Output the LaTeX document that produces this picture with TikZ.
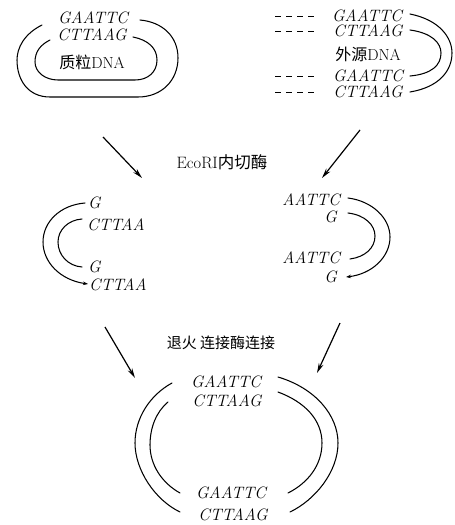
\documentclass[tikz,border=0pt]{standalone}
\usepackage{fontspec}
\newfontfamily\cjk{Noto Sans CJK SC}
\usetikzlibrary{arrows.meta}
\tikzset{
  seq/.style={inner sep=0pt, font=\fontsize{16.5}{18}\selectfont\itshape},
  lbl/.style={inner sep=0pt, font=\fontsize{15}{18}\selectfont},
  strand/.style={line width=1.05pt, line cap=round},
  tipstrand/.style={strand, -{Stealth[length=5pt,width=3.5pt]}},
  dashes/.style={line width=1pt, dash pattern=on 6pt off 5pt},
  flow/.style={line width=1.2pt, -{Stealth[length=10pt,width=5pt]}}
}
\begin{document}
\begin{tikzpicture}[x=1pt,y=-1pt]
\useasboundingbox (0,0) rectangle (455,525);

% --- plasmid DNA (top left)
\node[seq] (p1) at (93,18) {GAATTC};
\node[seq] (p2) at (92,35) {CTTAAG};
\node[lbl, font=\fontsize{16}{18}\selectfont] (p3) at (92,62) {{\cjk 质粒}DNA};
\draw[strand] (42,25) .. controls (24,34) and (17,48) .. (17,60)
  .. controls (17,80) and (28,97) .. (50,97) -- (138,97)
  .. controls (162,97) and (178,80) .. (178,58)
  .. controls (178,36) and (162,22) .. (140,20);
\draw[strand] (50,40) .. controls (40,45) and (35,52) .. (35,62)
  .. controls (35,72) and (45,80) .. (58,80) -- (135,80)
  .. controls (148,80) and (157,72) .. (157,60)
  .. controls (157,48) and (148,40) .. (133,37);

% --- foreign DNA (top right)
\node[seq] (f1) at (367,16) {GAATTC};
\node[seq] (f2) at (368,31) {CTTAAG};
\node[lbl, font=\fontsize{16}{18}\selectfont] (f3) at (368,54) {{\cjk 外源}DNA};
\node[seq] (f4) at (368,76) {GAATTC};
\node[seq] (f5) at (368,92) {CTTAAG};
\draw[dashes] (275,16) -- (318,16);
\draw[dashes] (275,31) -- (318,31);
\draw[dashes] (275,76) -- (318,76);
\draw[dashes] (275,92) -- (318,92);
\draw[strand] (410,14) .. controls (440,20) and (452,38) .. (452,53)
  .. controls (452,70) and (440,87) .. (410,92);
\draw[strand] (410,30) .. controls (432,33) and (441,43) .. (441,53)
  .. controls (441,65) and (432,74) .. (410,76);

% --- arrows and label 1
\coordinate (a1s) at (103,137); \coordinate (a1e) at (142,178);
\coordinate (a2s) at (360,130); \coordinate (a2e) at (322,178);
\draw[flow] (a1s) -- (a1e);
\draw[flow] (a2s) -- (a2e);
\node[lbl, font=\fontsize{16.5}{18}\selectfont] (l1) at (222,162) {EcoRI{\cjk 内切酶}};

% --- cut plasmid (middle left)
\node[seq, anchor=west] (m1) at (88,203) {G};
\node[seq, anchor=west] (m2) at (87,225) {CTTAA};
\node[seq, anchor=west] (m3) at (88,267) {G};
\node[seq, anchor=west] (m4) at (89,285) {CTTAA};
\draw[tipstrand] (85,203) .. controls (60,205) and (43,222) .. (43,242)
  .. controls (43,262) and (60,280) .. (88,284);
\draw[strand] (82,219) .. controls (68,220) and (58,230) .. (58,242)
  .. controls (58,255) and (68,266) .. (82,267);

% --- cut foreign DNA (middle right)
\node[seq, anchor=east] (n1) at (340,200) {AATTC};
\node[seq, anchor=east] (n2) at (337,217) {G};
\node[seq, anchor=east] (n3) at (340,258) {AATTC};
\node[seq, anchor=east] (n4) at (337,277) {G};
\draw[tipstrand] (348,198) .. controls (372,201) and (390,218) .. (390,237)
  .. controls (390,257) and (372,274) .. (346,277);
\draw[strand] (348,213) .. controls (365,215) and (375,225) .. (375,236)
  .. controls (375,248) and (365,257) .. (350,259);

% --- arrows and label 2
\coordinate (b1s) at (105,327); \coordinate (b1e) at (135,378);
\coordinate (b2s) at (340,323); \coordinate (b2e) at (317,373);
\draw[flow] (b1s) -- (b1e);
\draw[flow] (b2s) -- (b2e);
\node[lbl, font=\fontsize{15}{18}\selectfont\cjk] (l2) at (221,343) {退火\ 连接酶连接};

% --- recombinant (bottom)
\node[seq] (r1) at (226,382) {GAATTC};
\node[seq] (r2) at (227,401) {CTTAAG};
\node[seq] (r3) at (231,493) {GAATTC};
\node[seq] (r4) at (233,515) {CTTAAG};
\draw[strand] (172,383) .. controls (150,395) and (135,418) .. (135,443)
  .. controls (135,470) and (155,500) .. (180,512);
\draw[strand] (278,377) .. controls (315,388) and (338,415) .. (338,443)
  .. controls (338,472) and (315,500) .. (290,512);
\draw[strand] (168,402) .. controls (156,412) and (150,428) .. (150,445)
  .. controls (150,465) and (162,483) .. (180,493);
\draw[strand] (278,392) .. controls (305,402) and (322,420) .. (322,443)
  .. controls (322,465) and (308,483) .. (288,493);
\end{tikzpicture}
\end{document}
